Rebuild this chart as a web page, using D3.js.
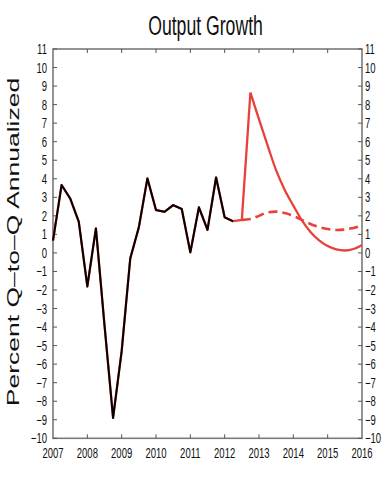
<!DOCTYPE html>
<html>
<head>
<meta charset="utf-8">
<script src="https://cdn.jsdelivr.net/npm/d3@7"></script>
<style>
  body { margin: 0; background: #fff; }
  svg text { font-family: "Liberation Sans", Arial, sans-serif; fill: #111; }
</style>
</head>
<body>
<svg id="chart" width="383" height="480"></svg>
<script>
// quarterly data, first point = 2007Q1
const startYear = 2007
const years = [2007, 2008, 2009, 2010, 2011, 2012, 2013, 2014, 2015, 2016]
const yTicks = [-10, -9, -8, -7, -6, -5, -4, -3, -2, -1, 0, 1, 2, 3, 4, 5, 6, 7, 8, 9, 10, 11]

// history 2007Q1..2012Q2
const history = [0.66, 3.66, 2.94, 1.69, -1.81, 1.32, -3.9, -8.9, -5.3, -0.3, 1.38, 4.02,
                 2.31, 2.22, 2.58, 2.37, 0.03, 2.46, 1.24, 4.07, 1.92, 1.70]
// solid red scenario, from 2012Q2
const shockStart = 21
const shock = [1.72, 1.78, 8.65, 7.2, 5.8, 4.45, 3.4, 2.55, 1.75, 1.13, 0.68, 0.37, 0.19, 0.13, 0.21, 0.43]
// dashed red baseline, from 2012Q3
const baseStart = 22
const baseline = [1.78, 1.83, 2.0, 2.19, 2.23, 2.15, 2.0, 1.78, 1.56, 1.40, 1.29, 1.24, 1.26, 1.35, 1.47]

const svg = d3.select("#chart")
const mLeft = 53, mRight = 362, mTop = 49, mBottom = 438.3

const x = d3.scaleLinear().domain([2007, 2016]).range([mLeft, mRight])
const y = d3.scaleLinear().domain([-10, 11]).range([mBottom, mTop])

const toPts = (arr, start) => arr.map((v, i) => ({ t: startYear + (start + i) / 4, v }))

const line = d3.line().x(d => x(d.t)).y(d => y(d.v))
const smooth = d3.line().x(d => x(d.t)).y(d => y(d.v)).curve(d3.curveMonotoneX)

// frame
svg.append("rect")
    .attr("x", mLeft).attr("y", mTop)
    .attr("width", mRight - mLeft).attr("height", mBottom - mTop)
    .attr("fill", "none").attr("stroke", "#7a7a7a").attr("stroke-width", 1.6)

// ticks
const tl = 4
years.slice(1, -1).forEach(yr => {
    svg.append("line").attr("x1", x(yr)).attr("x2", x(yr)).attr("y1", mTop).attr("y2", mTop + tl)
        .attr("stroke", "#555").attr("stroke-width", 1)
    svg.append("line").attr("x1", x(yr)).attr("x2", x(yr)).attr("y1", mBottom).attr("y2", mBottom - tl)
        .attr("stroke", "#555").attr("stroke-width", 1)
})
yTicks.forEach(t => {
    svg.append("line").attr("x1", mLeft).attr("x2", mLeft + tl).attr("y1", y(t)).attr("y2", y(t))
        .attr("stroke", "#555").attr("stroke-width", 1)
    svg.append("line").attr("x1", mRight).attr("x2", mRight - tl).attr("y1", y(t)).attr("y2", y(t))
        .attr("stroke", "#555").attr("stroke-width", 1)
})

const fmt = t => t < 0 ? "\u2212" + Math.abs(t) : String(t)

// y tick labels, both sides
yTicks.forEach(t => {
    svg.append("text")
        .attr("transform", `translate(${mLeft - 6},${y(t) + 5}) scale(0.68,1)`)
        .attr("text-anchor", "end").attr("font-size", 14)
        .text(fmt(t))
    svg.append("text")
        .attr("transform", `translate(${mRight + 3},${y(t) + 5}) scale(0.68,1)`)
        .attr("text-anchor", "start").attr("font-size", 14)
        .text(fmt(t))
})

// x tick labels
years.forEach(yr => {
    svg.append("text")
        .attr("transform", `translate(${x(yr)},${mBottom + 20}) scale(0.68,1)`)
        .attr("text-anchor", "middle").attr("font-size", 14)
        .text(yr)
})

// title
svg.append("text")
    .attr("transform", `translate(205.5,35) scale(0.63,1)`)
    .attr("text-anchor", "middle").attr("font-size", 28)
    .text("Output Growth")

// y axis label
svg.append("text")
    .attr("transform", `translate(18.5,242) rotate(-90) scale(1,0.6)`)
    .attr("text-anchor", "middle").attr("font-size", 26.5)
    .text("Percent Q\u2013to\u2013Q Annualized")

// lines
const red = "#e8403a"
// faint red under the history, as in the original
svg.append("path")
    .datum(toPts(history, 0))
    .attr("d", line).attr("fill", "none").attr("stroke", red).attr("stroke-width", 2.3)
    .attr("stroke-linejoin", "round")

// shock: straight jump to the peak, then a smooth decay
const shockPts = toPts(shock, shockStart)
svg.append("path")
    .datum(shockPts.slice(0, 3))
    .attr("d", line).attr("fill", "none").attr("stroke", red).attr("stroke-width", 2.3)
    .attr("stroke-linejoin", "miter")
svg.append("path")
    .datum(shockPts.slice(2))
    .attr("d", smooth).attr("fill", "none").attr("stroke", red).attr("stroke-width", 2.3)

svg.append("path")
    .datum(toPts(baseline, baseStart))
    .attr("d", smooth).attr("fill", "none").attr("stroke", red).attr("stroke-width", 2.6)
    .attr("stroke-dasharray", "9,5")

svg.append("path")
    .datum(toPts(history, 0))
    .attr("d", line).attr("fill", "none").attr("stroke", "#000").attr("stroke-width", 2)
    .attr("stroke-linejoin", "round")
</script>
</body>
</html>
